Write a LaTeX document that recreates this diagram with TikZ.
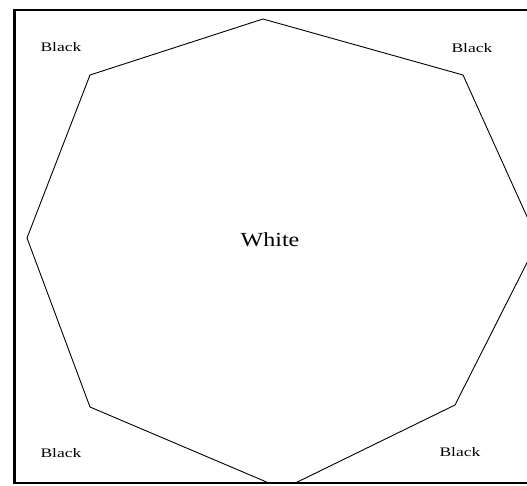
\documentclass[tikz,border=0pt]{standalone}
\usepackage{fontspec}
\setmainfont{Liberation Serif}
\begin{document}
\begin{tikzpicture}[x=1pt,y=-1pt,
  octa/.style={draw=black,line width=0.9pt,line join=miter},
  frameline/.style={draw=black},
  lbl/.style={inner sep=0pt,font=\fontsize{13}{13}\selectfont,xscale=1.35},
  center/.style={inner sep=0pt,font=\fontsize{20}{20}\selectfont,xscale=1.2}]
\useasboundingbox (0,0) rectangle (527,485);
\begin{scope}
\clip (14,10) rectangle (527,483);
\coordinate (T) at (263,19);
\coordinate (UR) at (463,75);
\coordinate (R) at (538,241);
\coordinate (LR) at (455,405);
\coordinate (B) at (283,489);
\coordinate (LL) at (90,407);
\coordinate (L) at (27,238);
\coordinate (UL) at (90,75);
\draw[octa] (T) -- (UR) -- (R) -- (LR) -- (B) -- (LL) -- (L) -- (UL) -- cycle;
\end{scope}
\clip (0,0) rectangle (527,485);
\coordinate (f1) at (14.5,483);
\coordinate (f2) at (14.5,10);
\coordinate (f3) at (540,10);
\coordinate (f4) at (540,483);
\draw[frameline,line width=3pt] (f1) -- (f2);
\draw[frameline,line width=2pt] (13,10) -- (f3);
\draw[frameline,line width=1.5pt] (13,483) -- (f4);
\node[lbl] (b1) at (61,47) {Black};
\node[lbl] (b2) at (472,48) {Black};
\node[lbl] (b3) at (61,453) {Black};
\node[lbl] (b4) at (460,452) {Black};
\node[center] (w) at (270,240) {White};
\end{tikzpicture}
\end{document}
